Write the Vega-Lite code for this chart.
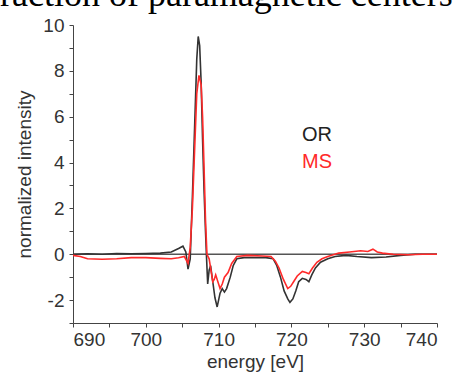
{
  "$schema": "https://vega.github.io/schema/vega-lite/v6.json",
  "autosize": {"type": "none"},
  "width": 364,
  "height": 298,
  "padding": {"left": 73, "top": 25, "right": 20, "bottom": 53},
  "background": "white",
  "title": {
    "text": "fraction of paramagnetic centers",
    "font": "Liberation Serif",
    "fontSize": 36,
    "fontWeight": "normal",
    "color": "#000000",
    "anchor": "start",
    "frame": "group",
    "baseline": "alphabetic",
    "dx": -85,
    "dy": 34,
    "offset": 8
  },
  "config": {
    "view": {"stroke": null},
    "axis": {
      "grid": false,
      "domainColor": "#444444",
      "tickColor": "#444444",
      "tickSize": 4,
      "labelFont": "Liberation Sans",
      "labelFontSize": 19,
      "labelColor": "#333333",
      "titleFont": "Liberation Sans",
      "titleFontSize": 19,
      "titleFontWeight": "normal",
      "titleColor": "#333333"
    }
  },
  "datasets": {
    "spectra": [
      {"energy": 690, "intensity": 0.0, "sample": "OR"},
      {"energy": 692, "intensity": 0.02, "sample": "OR"},
      {"energy": 694, "intensity": 0.0, "sample": "OR"},
      {"energy": 696, "intensity": 0.03, "sample": "OR"},
      {"energy": 698, "intensity": 0.02, "sample": "OR"},
      {"energy": 700, "intensity": 0.03, "sample": "OR"},
      {"energy": 702, "intensity": 0.05, "sample": "OR"},
      {"energy": 703.5, "intensity": 0.1, "sample": "OR"},
      {"energy": 704.5, "intensity": 0.25, "sample": "OR"},
      {"energy": 705.1, "intensity": 0.35, "sample": "OR"},
      {"energy": 705.5, "intensity": 0.1, "sample": "OR"},
      {"energy": 705.8, "intensity": -0.65, "sample": "OR"},
      {"energy": 706.1, "intensity": -0.2, "sample": "OR"},
      {"energy": 706.4, "intensity": 2.5, "sample": "OR"},
      {"energy": 706.7, "intensity": 5.5, "sample": "OR"},
      {"energy": 707.0, "intensity": 8.5, "sample": "OR"},
      {"energy": 707.2, "intensity": 9.5, "sample": "OR"},
      {"energy": 707.4, "intensity": 9.1, "sample": "OR"},
      {"energy": 707.6, "intensity": 7.5, "sample": "OR"},
      {"energy": 707.8, "intensity": 5.0, "sample": "OR"},
      {"energy": 708.0, "intensity": 2.8, "sample": "OR"},
      {"energy": 708.2, "intensity": 1.0, "sample": "OR"},
      {"energy": 708.35, "intensity": -0.2, "sample": "OR"},
      {"energy": 708.5, "intensity": -1.3, "sample": "OR"},
      {"energy": 708.7, "intensity": -0.7, "sample": "OR"},
      {"energy": 708.9, "intensity": -0.5, "sample": "OR"},
      {"energy": 709.2, "intensity": -1.2, "sample": "OR"},
      {"energy": 709.5, "intensity": -1.9, "sample": "OR"},
      {"energy": 709.8, "intensity": -2.3, "sample": "OR"},
      {"energy": 710.0, "intensity": -2.0, "sample": "OR"},
      {"energy": 710.2, "intensity": -1.7, "sample": "OR"},
      {"energy": 710.5, "intensity": -1.5, "sample": "OR"},
      {"energy": 710.8, "intensity": -1.65, "sample": "OR"},
      {"energy": 711.1, "intensity": -1.5, "sample": "OR"},
      {"energy": 711.6, "intensity": -1.0, "sample": "OR"},
      {"energy": 712.0, "intensity": -0.5, "sample": "OR"},
      {"energy": 712.5, "intensity": -0.2, "sample": "OR"},
      {"energy": 713.5, "intensity": -0.15, "sample": "OR"},
      {"energy": 715, "intensity": -0.15, "sample": "OR"},
      {"energy": 716.5, "intensity": -0.15, "sample": "OR"},
      {"energy": 717.5, "intensity": -0.2, "sample": "OR"},
      {"energy": 718.0, "intensity": -0.5, "sample": "OR"},
      {"energy": 718.5, "intensity": -1.0, "sample": "OR"},
      {"energy": 719.0, "intensity": -1.6, "sample": "OR"},
      {"energy": 719.5, "intensity": -1.95, "sample": "OR"},
      {"energy": 719.8, "intensity": -2.1, "sample": "OR"},
      {"energy": 720.2, "intensity": -1.95, "sample": "OR"},
      {"energy": 720.6, "intensity": -1.6, "sample": "OR"},
      {"energy": 721.0, "intensity": -1.2, "sample": "OR"},
      {"energy": 721.5, "intensity": -1.05, "sample": "OR"},
      {"energy": 722.0, "intensity": -1.1, "sample": "OR"},
      {"energy": 722.4, "intensity": -1.2, "sample": "OR"},
      {"energy": 722.8, "intensity": -0.9, "sample": "OR"},
      {"energy": 723.3, "intensity": -0.6, "sample": "OR"},
      {"energy": 724.0, "intensity": -0.35, "sample": "OR"},
      {"energy": 725, "intensity": -0.2, "sample": "OR"},
      {"energy": 726, "intensity": -0.1, "sample": "OR"},
      {"energy": 727.5, "intensity": -0.05, "sample": "OR"},
      {"energy": 729, "intensity": -0.1, "sample": "OR"},
      {"energy": 731, "intensity": -0.15, "sample": "OR"},
      {"energy": 733, "intensity": -0.12, "sample": "OR"},
      {"energy": 735, "intensity": -0.05, "sample": "OR"},
      {"energy": 737, "intensity": 0.0, "sample": "OR"},
      {"energy": 740, "intensity": 0.0, "sample": "OR"},
      {"energy": 690, "intensity": -0.05, "sample": "MS"},
      {"energy": 691, "intensity": -0.1, "sample": "MS"},
      {"energy": 692, "intensity": -0.2, "sample": "MS"},
      {"energy": 694, "intensity": -0.22, "sample": "MS"},
      {"energy": 696, "intensity": -0.2, "sample": "MS"},
      {"energy": 698, "intensity": -0.15, "sample": "MS"},
      {"energy": 700, "intensity": -0.15, "sample": "MS"},
      {"energy": 702, "intensity": -0.18, "sample": "MS"},
      {"energy": 703.5, "intensity": -0.2, "sample": "MS"},
      {"energy": 704.5, "intensity": -0.15, "sample": "MS"},
      {"energy": 705.3, "intensity": -0.1, "sample": "MS"},
      {"energy": 705.8, "intensity": -0.4, "sample": "MS"},
      {"energy": 706.1, "intensity": 0.3, "sample": "MS"},
      {"energy": 706.4, "intensity": 2.0, "sample": "MS"},
      {"energy": 706.7, "intensity": 4.5, "sample": "MS"},
      {"energy": 707.0, "intensity": 7.0, "sample": "MS"},
      {"energy": 707.3, "intensity": 7.8, "sample": "MS"},
      {"energy": 707.6, "intensity": 7.4, "sample": "MS"},
      {"energy": 707.8, "intensity": 6.0, "sample": "MS"},
      {"energy": 708.0, "intensity": 3.8, "sample": "MS"},
      {"energy": 708.2, "intensity": 1.5, "sample": "MS"},
      {"energy": 708.4, "intensity": 0.0, "sample": "MS"},
      {"energy": 708.7, "intensity": -0.2, "sample": "MS"},
      {"energy": 709.0, "intensity": -0.8, "sample": "MS"},
      {"energy": 709.2, "intensity": -1.2, "sample": "MS"},
      {"energy": 709.4, "intensity": -1.1, "sample": "MS"},
      {"energy": 709.6, "intensity": -0.9, "sample": "MS"},
      {"energy": 709.9, "intensity": -1.2, "sample": "MS"},
      {"energy": 710.2, "intensity": -1.5, "sample": "MS"},
      {"energy": 710.5, "intensity": -1.3, "sample": "MS"},
      {"energy": 710.8, "intensity": -1.0, "sample": "MS"},
      {"energy": 711.3, "intensity": -0.8, "sample": "MS"},
      {"energy": 711.8, "intensity": -0.4, "sample": "MS"},
      {"energy": 712.5, "intensity": -0.1, "sample": "MS"},
      {"energy": 714, "intensity": -0.05, "sample": "MS"},
      {"energy": 716, "intensity": -0.08, "sample": "MS"},
      {"energy": 717.2, "intensity": -0.1, "sample": "MS"},
      {"energy": 717.8, "intensity": -0.3, "sample": "MS"},
      {"energy": 718.3, "intensity": -0.6, "sample": "MS"},
      {"energy": 718.9, "intensity": -1.1, "sample": "MS"},
      {"energy": 719.5, "intensity": -1.5, "sample": "MS"},
      {"energy": 719.9, "intensity": -1.4, "sample": "MS"},
      {"energy": 720.3, "intensity": -1.2, "sample": "MS"},
      {"energy": 720.8, "intensity": -0.95, "sample": "MS"},
      {"energy": 721.5, "intensity": -0.75, "sample": "MS"},
      {"energy": 722.0, "intensity": -0.8, "sample": "MS"},
      {"energy": 722.4, "intensity": -0.85, "sample": "MS"},
      {"energy": 722.9, "intensity": -0.6, "sample": "MS"},
      {"energy": 723.5, "intensity": -0.35, "sample": "MS"},
      {"energy": 724.2, "intensity": -0.2, "sample": "MS"},
      {"energy": 725, "intensity": -0.1, "sample": "MS"},
      {"energy": 726.5, "intensity": 0.05, "sample": "MS"},
      {"energy": 728, "intensity": 0.1, "sample": "MS"},
      {"energy": 729.5, "intensity": 0.15, "sample": "MS"},
      {"energy": 730.5, "intensity": 0.12, "sample": "MS"},
      {"energy": 731.2, "intensity": 0.22, "sample": "MS"},
      {"energy": 731.8, "intensity": 0.1, "sample": "MS"},
      {"energy": 732.5, "intensity": 0.05, "sample": "MS"},
      {"energy": 734, "intensity": 0.0, "sample": "MS"},
      {"energy": 736, "intensity": -0.02, "sample": "MS"},
      {"energy": 738, "intensity": 0.0, "sample": "MS"},
      {"energy": 740, "intensity": 0.0, "sample": "MS"}
    ]
  },
  "encoding": {
    "y": {
      "field": "intensity",
      "type": "quantitative",
      "scale": {"domain": [-3, 10], "nice": false, "zero": false},
      "axis": {
        "title": "normalized intensity",
        "values": [-3, -2, -1, 0, 1, 2, 3, 4, 5, 6, 7, 8, 9, 10],
        "labelExpr": "datum.value % 2 == 0 ? '' + datum.value : ''",
        "labelOverlap": false,
        "labelPadding": 5,
        "titlePadding": 8
      }
    }
  },
  "layer": [
    {
      "data": {"values": [{"intensity": 0}]},
      "mark": {"type": "rule", "color": "#555555", "strokeWidth": 1.5},
      "encoding": {}
    },
    {
      "data": {"name": "spectra"},
      "mark": {"type": "line", "strokeWidth": 1.6, "interpolate": "linear"},
      "encoding": {
        "x": {
          "field": "energy",
          "type": "quantitative",
          "scale": {"domain": [690, 740], "nice": false, "zero": false},
          "axis": {
            "title": "energy [eV]",
            "values": [690, 695, 700, 705, 710, 715, 720, 725, 730, 735, 740],
            "labelExpr": "datum.value % 10 == 0 ? '' + datum.value : ''",
            "labelOverlap": false,
            "labelPadding": 3,
            "titlePadding": 3
          }
        },
        "color": {
          "field": "sample",
          "type": "nominal",
          "sort": ["OR", "MS"],
          "scale": {"domain": ["OR", "MS"], "range": ["#333333", "#ff2a2a"]},
          "legend": {
            "title": null,
            "orient": "none",
            "legendX": 209,
            "legendY": 100,
            "padding": 0,
            "symbolSize": 0,
            "symbolOpacity": 0,
            "symbolStrokeWidth": 0,
            "labelOffset": 0,
            "rowPadding": 7,
            "labelFont": "Liberation Sans",
            "labelFontSize": 20,
            "labelColor": {"expr": "datum.label == 'OR' ? '#222222' : '#ff2a2a'"}
          }
        },
        "detail": {"field": "sample"}
      }
    }
  ]
}
